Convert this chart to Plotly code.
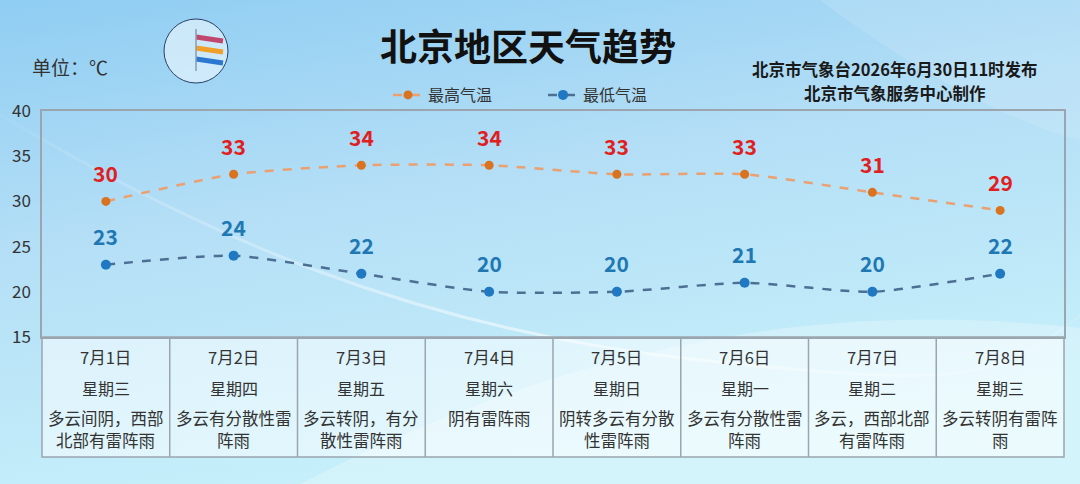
import base64
import plotly.graph_objects as go

dates = ["7月1日", "7月2日", "7月3日", "7月4日", "7月5日", "7月6日", "7月7日", "7月8日"]
weekdays = ["星期三", "星期四", "星期五", "星期六", "星期日", "星期一", "星期二", "星期三"]
weather = ["多云间阴，西部<br>北部有雷阵雨", "多云有分散性雷<br>阵雨", "多云转阴，有分<br>散性雷阵雨",
           "阴有雷阵雨", "阴转多云有分散<br>性雷阵雨", "多云有分散性雷<br>阵雨",
           "多云，西部北部<br>有雷阵雨", "多云转阴有雷阵<br>雨"]
high = [30, 33, 34, 34, 33, 33, 31, 29]
low = [23, 24, 22, 20, 20, 21, 20, 22]
y_ticks = [15, 20, 25, 30, 35, 40]

W, H = 1080, 484
L, R, T, B = 42, 1064, 111, 337
TABLE_BOTTOM = 457
FONT = "Noto Sans CJK SC, Noto Sans, sans-serif"

def px_x(px):
    return (px - L) / (R - L)

def px_y(py):
    return (B - py) / (B - T)

def label(px, py, text, size, color, xanchor="center", yanchor="middle", borderpad=1):
    return dict(x=px_x(px), y=px_y(py), xref="paper", yref="paper", text=text, showarrow=False,
                xanchor=xanchor, yanchor=yanchor, borderpad=borderpad,
                font=dict(family=FONT, size=size, color=color))

# background svg (decoration)
svg = f'''<svg xmlns="http://www.w3.org/2000/svg" width="{W}" height="{H}" viewBox="0 0 {W} {H}">
<defs>
<linearGradient id="g" x1="0" y1="0" x2="0.35" y2="1">
<stop offset="0" stop-color="#8fcdf2"/>
<stop offset="0.45" stop-color="#b3def6"/>
<stop offset="1" stop-color="#c6f0fa"/>
</linearGradient>
<linearGradient id="g2" x1="0" y1="0" x2="1" y2="0">
<stop offset="0" stop-color="#ffffff" stop-opacity="0.0"/>
<stop offset="0.5" stop-color="#ffffff" stop-opacity="0.55"/>
<stop offset="1" stop-color="#ffffff" stop-opacity="0.1"/>
</linearGradient>
</defs>
<rect width="{W}" height="{H}" fill="url(#g)"/>
<path d="M -40 90 C 200 240, 420 330, 700 360 S 1000 380, 1100 300" stroke="url(#g2)" stroke-width="3" fill="none"/>
<path d="M 300 484 C 600 330, 850 300, 1100 330 L 1100 484 Z" fill="#ffffff" fill-opacity="0.25"/>
<path d="M 820 0 C 900 60, 1000 120, 1080 140 L 1080 0 Z" fill="#ffffff" fill-opacity="0.12"/>
</svg>'''
bg_uri = "data:image/svg+xml;base64," + base64.b64encode(svg.encode("utf-8")).decode("ascii")

x = list(range(len(dates)))

fig = go.Figure()
fig.add_trace(go.Scatter(
    x=x, y=high, name="最高气温", mode="lines+markers",
    line=dict(color="#eaa070", width=2.5, dash="dash", shape="spline", smoothing=0.6),
    marker=dict(color="#d9731f", size=9),
))
fig.add_trace(go.Scatter(
    x=x, y=low, name="最低气温", mode="lines+markers",
    line=dict(color="#4d6f94", width=2.5, dash="dash", shape="spline", smoothing=0.6),
    marker=dict(color="#1f78c1", size=10),
))

annotations = []
for i, v in enumerate(high):
    annotations.append(dict(x=i, y=v, xref="x", yref="y", text=f"<b>{v}</b>", showarrow=False,
                            xanchor="center", yanchor="middle", yshift=28,
                            font=dict(family=FONT, size=21, color="#e0201f")))
for i, v in enumerate(low):
    annotations.append(dict(x=i, y=v, xref="x", yref="y", text=f"<b>{v}</b>", showarrow=False,
                            xanchor="center", yanchor="middle", yshift=29,
                            font=dict(family=FONT, size=21, color="#1f78b4")))

# table
shapes = []
col_w = (R - L) / len(dates)
shapes.append(dict(type="rect", xref="paper", yref="paper", x0=0, x1=1, y0=px_y(TABLE_BOTTOM), y1=0,
                   line=dict(color="#9aa5ae", width=1.5), fillcolor="rgba(255,255,255,0.5)", layer="below"))
for i in range(1, len(dates)):
    xx = px_x(L + col_w * i)
    shapes.append(dict(type="line", xref="paper", yref="paper", x0=xx, x1=xx, y0=px_y(TABLE_BOTTOM), y1=0,
                       line=dict(color="#9aa5ae", width=1.5)))
for i in range(len(dates)):
    cx = L + col_w * (i + 0.5)
    annotations.append(label(cx, 357, dates[i], 16.5, "#333333"))
    annotations.append(label(cx, 388, weekdays[i], 16, "#333333"))
    for j, line_txt in enumerate(weather[i].split("<br>")):
        annotations.append(label(cx, 418 + 22 * j, line_txt, 16.5, "#333333", borderpad=0))

# header texts
annotations.append(label(528, 45, "<b>北京地区天气趋势</b>", 37, "#111111"))
annotations.append(label(30, 66, "单位：℃", 19, "#333333", xanchor="left"))
annotations.append(label(895, 69, "<b>北京市气象台2026年6月30日11时发布</b>", 16.5, "#1a1a1a", borderpad=0))
annotations.append(label(895, 93, "<b>北京市气象服务中心制作</b>", 16.5, "#1a1a1a", borderpad=0))

# simple logo decoration
lx, ly, lr = 196, 51, 32
shapes.append(dict(type="circle", xref="paper", yref="paper",
                   x0=px_x(lx - lr), x1=px_x(lx + lr), y0=px_y(ly + lr), y1=px_y(ly - lr),
                   line=dict(color="#2b3f66", width=1), fillcolor="rgba(255,255,255,0.5)"))
for k, c in enumerate(["#c2476e", "#f0a02a", "#2a78d0"]):
    yy = ly - 14 + k * 11
    shapes.append(dict(type="line", xref="paper", yref="paper",
                       x0=px_x(lx), x1=px_x(lx + 27), y0=px_y(yy), y1=px_y(yy + 4),
                       line=dict(color=c, width=5)))
shapes.append(dict(type="line", xref="paper", yref="paper", x0=px_x(lx), x1=px_x(lx), y0=px_y(ly - 22),
                   y1=px_y(ly + 20), line=dict(color="#8a9bb0", width=1.5)))

fig.update_layout(
    width=W, height=H,
    margin=dict(l=L, r=W - R, t=T, b=H - B, pad=0),
    paper_bgcolor="#b5e0f7",
    plot_bgcolor="rgba(255,255,255,0.55)",
    images=[dict(source=bg_uri, xref="paper", yref="paper", x=-L / (R - L), y=1 + T / (B - T),
                 sizex=W / (R - L), sizey=H / (B - T), xanchor="left", yanchor="top",
                 sizing="stretch", layer="below")],
    xaxis=dict(range=[-0.5, len(dates) - 0.5], showticklabels=False, showgrid=False, zeroline=False,
               showline=True, mirror=True, linecolor="#9aa5ae", linewidth=1.5),
    yaxis=dict(range=[15, 40], tickvals=y_ticks, showgrid=False, zeroline=False,
               showline=True, mirror=True, linecolor="#9aa5ae", linewidth=1.5,
               tickfont=dict(family=FONT, size=17, color="#333333"), ticks="", ticklabelstandoff=6),
    legend=dict(orientation="h", x=px_x(388), y=px_y(95), xanchor="left", yanchor="middle",
                bgcolor="rgba(0,0,0,0)", font=dict(family=FONT, size=16, color="#333333"),
                itemwidth=30, entrywidth=110),
    shapes=shapes,
    annotations=annotations,
    showlegend=True,
)

fig.write_html("out.html")
